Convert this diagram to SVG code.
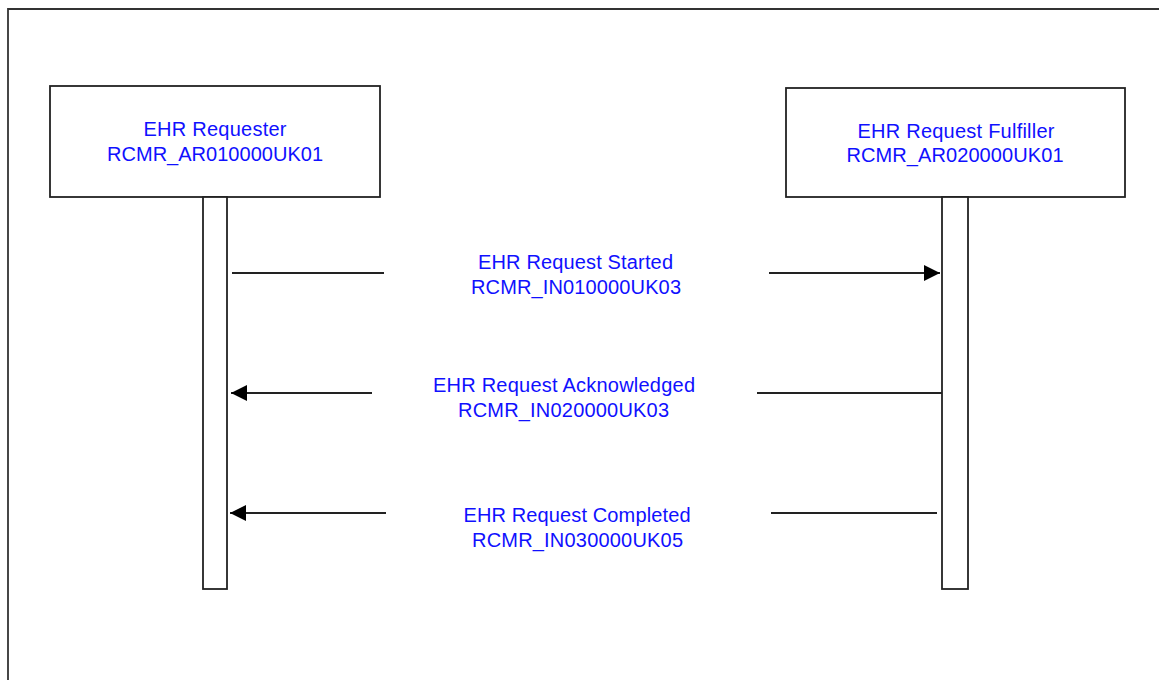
<svg xmlns="http://www.w3.org/2000/svg" width="1159" height="680" viewBox="0 0 1159 680">
<style>
.frame{fill:none;stroke:#333;stroke-width:1.8}
.box{fill:#fff;stroke:#222;stroke-width:1.8}
.msg{fill:none;stroke:#222;stroke-width:1.8}
.lbl{font-family:"Liberation Sans",Arial,sans-serif;font-size:20px;fill:#1010ff;text-anchor:middle}
</style>
<defs>
<marker id="ah" markerWidth="17" markerHeight="17" refX="16" refY="8" orient="auto" markerUnits="userSpaceOnUse">
<path d="M0,0 L16,8 L0,16 Z" fill="#000"/>
</marker>
</defs>
<rect width="1159" height="680" fill="#fff"/>
<path class="frame" d="M8,680 V9 H1159"/>
<g id="requester">
<rect class="box" x="50" y="86" width="330" height="111"/>
<rect class="box" x="203" y="197" width="24" height="392"/>
<text class="lbl" x="215" y="136" textLength="143" lengthAdjust="spacing">EHR Requester</text>
<text class="lbl" x="215" y="161" textLength="216" lengthAdjust="spacing">RCMR_AR010000UK01</text>
</g>
<g id="fulfiller">
<rect class="box" x="786" y="88" width="339" height="109"/>
<rect class="box" x="942" y="197" width="26" height="392"/>
<text class="lbl" x="956" y="138" textLength="197" lengthAdjust="spacing">EHR Request Fulfiller</text>
<text class="lbl" x="955" y="162" textLength="217" lengthAdjust="spacing">RCMR_AR020000UK01</text>
</g>
<g id="connectors">
<line class="msg" x1="232" y1="273" x2="384" y2="273"/>
<line class="msg" x1="769" y1="273" x2="940" y2="273" marker-end="url(#ah)"/>
<line class="msg" x1="372" y1="393" x2="231" y2="393" marker-end="url(#ah)"/>
<line class="msg" x1="757" y1="393" x2="942" y2="393"/>
<line class="msg" x1="386" y1="513" x2="230" y2="513" marker-end="url(#ah)"/>
<line class="msg" x1="771" y1="513" x2="937" y2="513"/>
</g>
<g id="labels">
<text class="lbl" x="575.5" y="269" textLength="195" lengthAdjust="spacing">EHR Request Started</text>
<text class="lbl" x="576" y="294" textLength="210" lengthAdjust="spacing">RCMR_IN010000UK03</text>
<text class="lbl" x="564" y="392" textLength="262" lengthAdjust="spacing">EHR Request Acknowledged</text>
<text class="lbl" x="563.5" y="417" textLength="211" lengthAdjust="spacing">RCMR_IN020000UK03</text>
<text class="lbl" x="577" y="522" textLength="227" lengthAdjust="spacing">EHR Request Completed</text>
<text class="lbl" x="577.5" y="547" textLength="211" lengthAdjust="spacing">RCMR_IN030000UK05</text>
</g>
</svg>
